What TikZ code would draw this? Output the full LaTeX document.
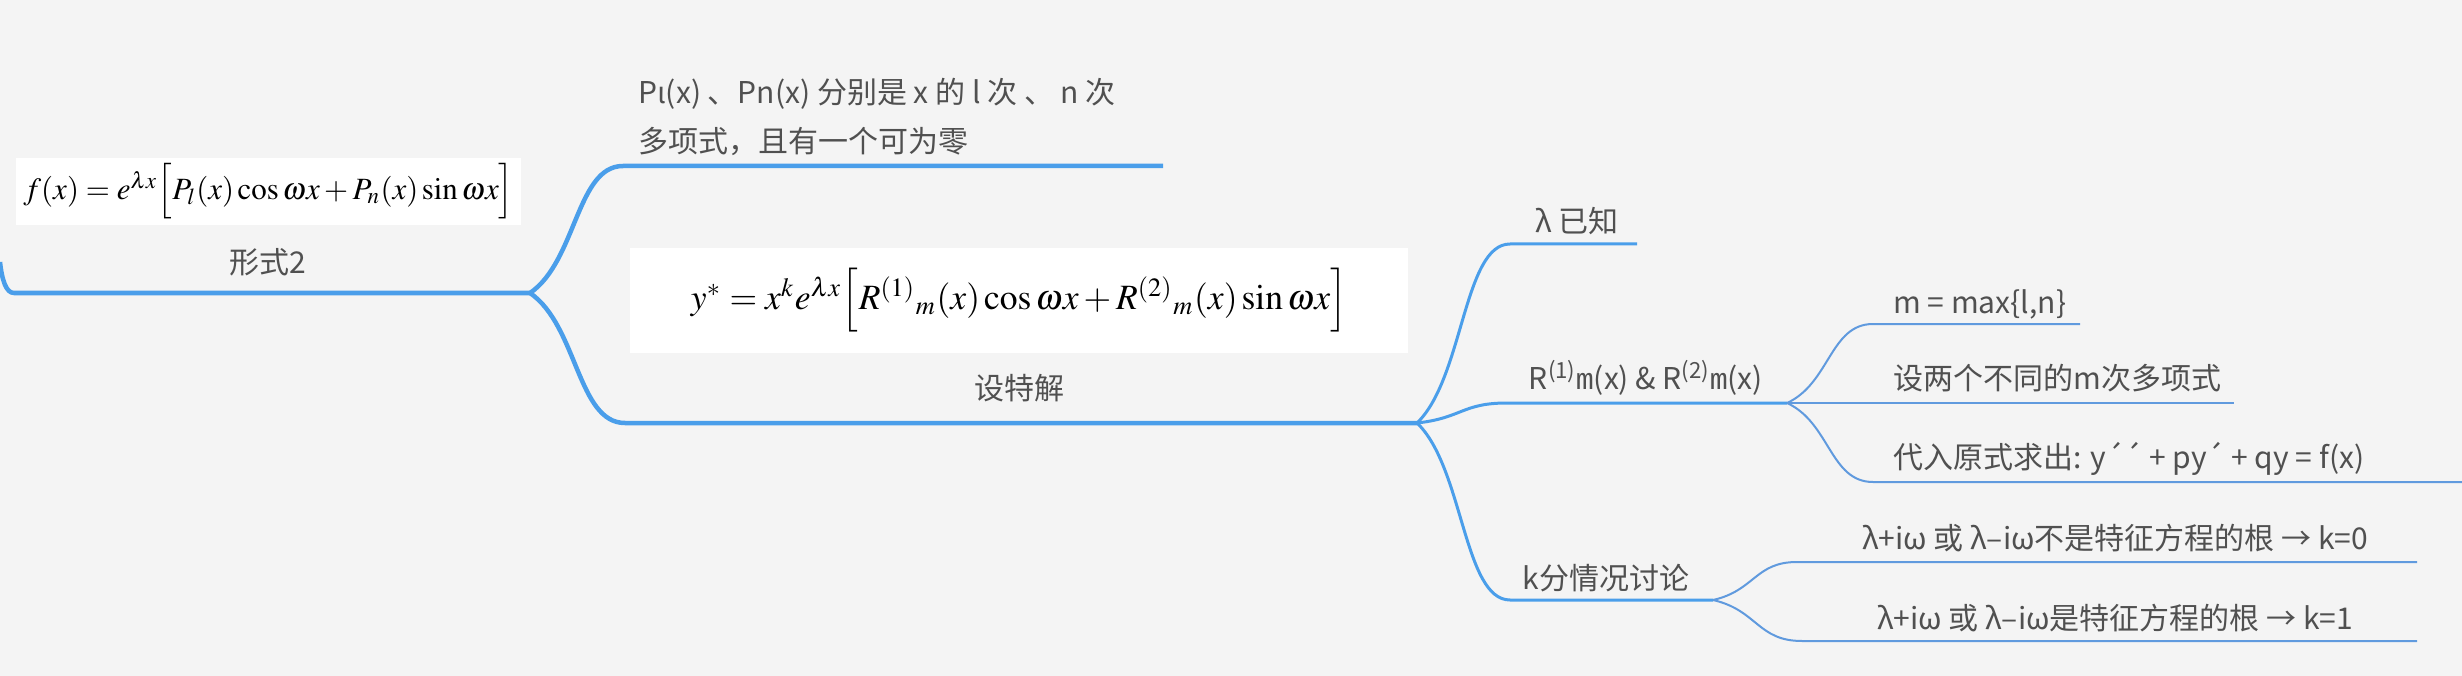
\documentclass[tikz,border=0pt]{standalone}
\usepackage{mathptmx}
\usepackage[no-math]{fontspec}
\setmainfont{Noto Sans CJK SC}
\newfontfamily\monof{Liberation Mono}
\usepackage{graphicx}
\usetikzlibrary{calc}
\definecolor{bg}{RGB}{244,244,244}
\definecolor{txt}{RGB}{80,80,80}
\definecolor{br1}{RGB}{74,158,234}
\definecolor{br3}{RGB}{96,154,222}
\newcommand\branch[4]{\draw[#1] let \p1=(#2), \p2=(#3) in (#2) .. controls ({0.5*\x1+0.5*\x2},{0.75*\y1+0.25*\y2}) and ({0.5*\x1+0.5*\x2},\y2) .. (#3) -- (#4);}
\begin{document}
\begin{tikzpicture}[x=1pt,y=-1pt,
  lab/.style={font=\fontsize{30}{36}\selectfont, text=txt, inner sep=0pt},
  l1/.style={draw=br1, line width=4.5pt, line join=round},
  l2/.style={draw=br1, line width=3pt, line join=round},
  l3/.style={draw=br3, line width=2pt, line join=round},
  fbox/.style={fill=white, inner sep=0pt}]
\fill[bg] (0,0) rectangle (2462,676);
\useasboundingbox (0,0) rectangle (2462,676);

\coordinate (in0) at (0,262);
\coordinate (aS) at (14,293); \coordinate (J1) at (530,293);
\coordinate (bS) at (623,166); \coordinate (bE) at (1163,166);
\coordinate (cS) at (625,423); \coordinate (J2) at (1417,423);
\coordinate (dS) at (1510,244); \coordinate (dE) at (1637,244);
\coordinate (eS) at (1507,403); \coordinate (J3) at (1787,403);
\coordinate (fS) at (1510,600); \coordinate (J4) at (1713,600);
\coordinate (gS) at (1873,324); \coordinate (gE) at (2080,324);
\coordinate (hS) at (1873,403); \coordinate (hE) at (2234,403);
\coordinate (iS) at (1873,482); \coordinate (iE) at (2462,482);
\coordinate (kS) at (1797,562); \coordinate (kE) at (2417,562);
\coordinate (lS) at (1802,641); \coordinate (lE) at (2417,641);

\draw[l1] (in0) .. controls (2,280) and (6,293) .. (aS) -- (J1);
\branch{l1}{J1}{bS}{bE}
\branch{l1}{J1}{cS}{J2}
\branch{l2}{J2}{dS}{dE}
\branch{l2}{J2}{eS}{J3}
\branch{l2}{J2}{fS}{J4}
\branch{l3}{J3}{gS}{gE}
\branch{l3}{J3}{hS}{hE}
\branch{l3}{J3}{iS}{iE}
\branch{l3}{J4}{kS}{kE}
\branch{l3}{J4}{lS}{lE}

\node[fbox, minimum width=505pt, minimum height=67pt] (f1) at (268.5,191.5)
  {\resizebox{490pt}{!}{$f(x)=e^{\lambda x}\Big[P_l(x)\cos\omega x+P_n(x)\sin\omega x\Big]$}};
\node[lab, anchor=base] (a) at (268,273) {形式2};
\node[lab, anchor=base west] (b1) at (638,104) {Pι(x) 、Pn(x) 分别是 x 的 l 次 、 n 次};
\node[lab, anchor=base west] (b2) at (638,153) {多项式，且有一个可为零};
\node[fbox, minimum width=778pt, minimum height=105pt] (f2) at (1019,300.5)
  {\resizebox{656pt}{!}{$y^{*}=x^{k}e^{\lambda x}\Big[R^{(1)}{}_{m}(x)\cos\omega x+R^{(2)}{}_{m}(x)\sin\omega x\Big]$}};
\node[lab, anchor=base] (c) at (1019,399) {设特解};
\node[lab, anchor=base] (d) at (1577,233) {λ 已知};
\node[lab, anchor=base] (e) at (1646,389) {R\textsuperscript{(1)}{\monof m}(x) \& R\textsuperscript{(2)}{\monof m}(x)};
\node[lab, anchor=base] (f) at (1606,589) {k分情况讨论};
\node[lab, anchor=base west] (g) at (1893,313) {m = max\{l,n\}};
\node[lab, anchor=base west] (h) at (1893,389) {设两个不同的m次多项式};
\node[lab, anchor=base west] (i) at (1893,468) {代入原式求出: y´´ + py´ + qy = f(x)};
\node[lab, anchor=base] (k) at (2115,549) {λ+iω 或 λ–iω不是特征方程的根 → k=0};
\node[lab, anchor=base] (l) at (2115,629) {λ+iω 或 λ–iω是特征方程的根 → k=1};
\end{tikzpicture}
\end{document}
